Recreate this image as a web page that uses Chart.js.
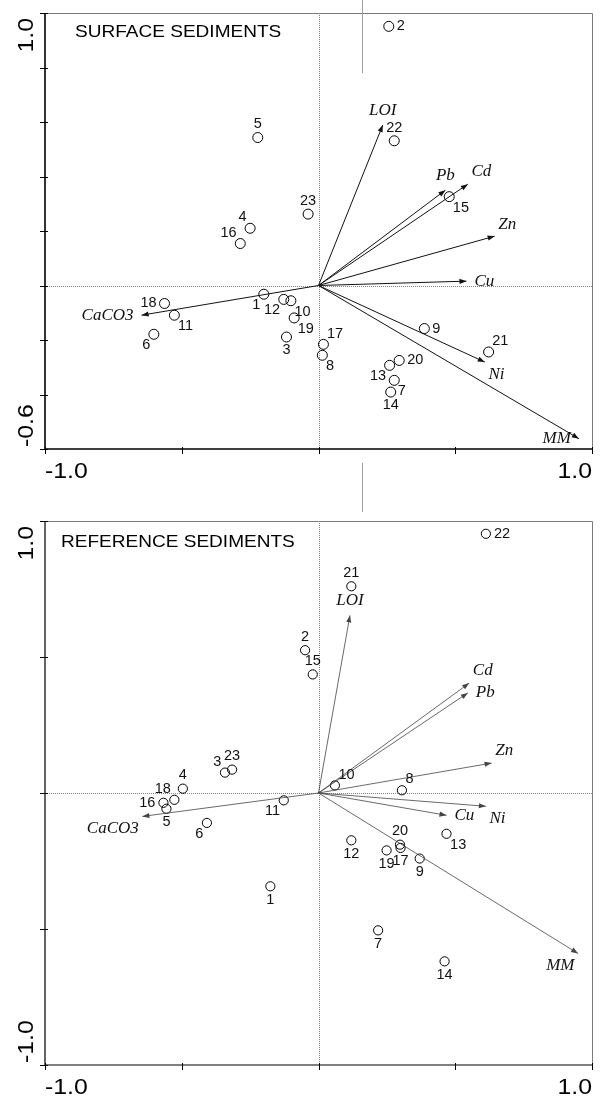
<!DOCTYPE html>
<html><head><meta charset="utf-8">
<script src="https://cdn.jsdelivr.net/npm/chart.js@4.4.0/dist/chart.umd.min.js"></script>
<style>
html,body{margin:0;padding:0;background:#fff;}
#wrap{position:relative;width:602px;height:1096px;overflow:hidden;background:#fff;}
.cv{position:absolute;left:0;width:602px;}
#c1wrap{top:0;height:490px;}
#c2wrap{top:490px;height:606px;}
.art{position:absolute;left:362px;width:1px;background:#a0a0a0;}
</style></head>
<body><div id="wrap">
<div class="cv" id="c1wrap"><canvas id="c1"></canvas></div>
<div class="cv" id="c2wrap"><canvas id="c2"></canvas></div>
<div class="art" style="top:0;height:73px"></div>
<div class="art" style="top:463px;height:49px"></div>
</div>
<script>
// ---------- DATA ----------
const sampleIds = ['1','2','3','4','5','6','7','8','9','10','11','12','13','14','15','16','17','18','19','20','21','22','23'];

const surfaceX = [-0.200, 0.257,-0.117,-0.250,-0.222,-0.602, 0.277, 0.014, 0.387,-0.101,-0.527,-0.127, 0.260, 0.264, 0.478,-0.286, 0.018,-0.563,-0.089, 0.295, 0.622, 0.277,-0.038];
const surfaceY = [-0.032, 0.951,-0.189, 0.210, 0.543,-0.179,-0.348,-0.256,-0.158,-0.056,-0.109,-0.051,-0.293,-0.391, 0.326, 0.154,-0.216,-0.066,-0.119,-0.275,-0.244, 0.531, 0.262];

const referenceX = [-0.176,-0.049,-0.342,-0.496,-0.556,-0.408, 0.218, 0.305, 0.370, 0.060,-0.127, 0.120, 0.468, 0.461,-0.021,-0.567, 0.300,-0.527, 0.249, 0.298, 0.120, 0.612,-0.316];
const referenceY = [-0.343, 0.525, 0.075, 0.016,-0.058,-0.110,-0.505, 0.010,-0.241, 0.028,-0.027,-0.174,-0.150,-0.619, 0.436,-0.036,-0.202,-0.025,-0.211,-0.190, 0.760, 0.953, 0.086];

const variableNames = ['LOI','Pb','Cd','Zn','Cu','Ni','MM','CaCO3'];
const surfaceVarX   = [0.235, 0.464, 0.546, 0.644, 0.541, 0.608, 0.952,-0.647];
const surfaceVarY   = [0.589, 0.350, 0.372, 0.181, 0.016,-0.281,-0.562,-0.109];
const referenceVarX = [0.115, 0.546, 0.551, 0.633, 0.468, 0.612, 0.949,-0.644];
const referenceVarY = [0.653, 0.368, 0.404, 0.110,-0.082,-0.049,-0.590,-0.086];

const xTickValues = [-1, -0.5, 0, 0.5, 1];
const xTickLabels = ['-1.0', '1.0'];
const surfaceYTickValues = [-0.6,-0.4,-0.2,0,0.2,0.4,0.6,0.8,1.0];
const surfaceYTickLabels = ['-0.6','1.0'];
const referenceYTickValues = [-1,-0.5,0,0.5,1];
const referenceYTickLabels = ['-1.0','1.0'];

// label placement (anchor codes), separate from data
const surfacePtPos   = ['bl','r','b','tl','t','bl','br','br','r','br','br','bl','bl','b','br','tl','tr','l','br','r','tr','t','t'];
const referencePtPos = ['b','t','tl','t','b','bl','b','tr','b','tr','bl','b','br','b','t','l','b','tl','b','t','t','r','t'];
const surfaceVarPos   = ['t','t','tr','tr','r','br','l','l'];
const referenceVarPos = ['t','r','tr','tr','r','br','bl','bl'];

// ---------- DRAWING ----------
function place(ctx, code, px, py, d) {
  let tx = px, ty = py;
  switch (code) {
    case 'r': ctx.textAlign='left'; ctx.textBaseline='middle'; tx=px+d+2; break;
    case 'l': ctx.textAlign='right'; ctx.textBaseline='middle'; tx=px-d-2; break;
    case 't': ctx.textAlign='center'; ctx.textBaseline='bottom'; ty=py-d; break;
    case 'b': ctx.textAlign='center'; ctx.textBaseline='top'; ty=py+d; break;
    case 'tr': ctx.textAlign='left'; ctx.textBaseline='bottom'; tx=px+d*0.6; ty=py-d*0.6; break;
    case 'tl': ctx.textAlign='right'; ctx.textBaseline='bottom'; tx=px-d*0.6; ty=py-d*0.6; break;
    case 'br': ctx.textAlign='left'; ctx.textBaseline='top'; tx=px+d*0.6; ty=py+d*0.6; break;
    case 'bl': ctx.textAlign='right'; ctx.textBaseline='top'; tx=px-d*0.6; ty=py+d*0.6; break;
  }
  return [tx, ty];
}

function wideText(ctx, txt, tx, ty, sx) {
  ctx.save();
  ctx.translate(tx, ty);
  ctx.scale(sx, 1);
  ctx.fillText(txt, 0, 0);
  ctx.restore();
}

const decor = {
  id: 'decor',
  beforeDatasetsDraw(chart, args, o) {
    const {ctx, chartArea:a, scales:{x, y}} = chart;
    ctx.save();
    ctx.strokeStyle = '#858585'; ctx.lineWidth = 1; ctx.setLineDash([1, 1]);
    const x0 = Math.round(x.getPixelForValue(0)) + 0.5;
    const y0 = Math.round(y.getPixelForValue(0)) + 0.5;
    ctx.beginPath();
    ctx.moveTo(x0, a.top); ctx.lineTo(x0, a.bottom);
    ctx.moveTo(a.left, y0); ctx.lineTo(a.right, y0);
    ctx.stroke();
    ctx.restore();
  },
  afterDatasetsDraw(chart, args, o) {
    const {ctx, chartArea:a, scales:{x, y}} = chart;
    ctx.save();
    // arrowheads + variable labels
    chart.data.datasets.forEach((ds) => {
      if (!ds.isVector) return;
      const p0 = ds.data[0], p1 = ds.data[1];
      const X0 = x.getPixelForValue(p0.x), Y0 = y.getPixelForValue(p0.y);
      const X1 = x.getPixelForValue(p1.x), Y1 = y.getPixelForValue(p1.y);
      const ang = Math.atan2(Y1 - Y0, X1 - X0);
      const L = 7, W = 2.6;
      ctx.fillStyle = ds.borderColor;
      ctx.beginPath();
      ctx.moveTo(X1, Y1);
      ctx.lineTo(X1 - L*Math.cos(ang) + W*Math.sin(ang), Y1 - L*Math.sin(ang) - W*Math.cos(ang));
      ctx.lineTo(X1 - L*Math.cos(ang) - W*Math.sin(ang), Y1 - L*Math.sin(ang) + W*Math.cos(ang));
      ctx.closePath(); ctx.fill();
      ctx.font = 'italic 17px "Liberation Serif", "Times New Roman", serif';
      ctx.fillStyle = '#111';
      const [tx, ty] = place(ctx, ds.labelPos, X1, Y1, 6);
      ctx.fillText(ds.label, tx, ty);
    });
    // point labels
    chart.data.datasets.forEach((ds) => {
      if (!ds.isSamples) return;
      ctx.font = '14.5px "Liberation Sans", Arial, sans-serif';
      ctx.fillStyle = '#111';
      ds.data.forEach((p, k) => {
        const px = x.getPixelForValue(p.x), py = y.getPixelForValue(p.y);
        const [tx, ty] = place(ctx, ds.labelPos[k], px, py, 6);
        ctx.fillText(ds.ids[k], tx, ty);
      });
    });
    // frame
    ctx.lineWidth = 1; ctx.strokeStyle = '#7a7a7a';
    ctx.beginPath();
    ctx.moveTo(a.left, a.top + 0.5); ctx.lineTo(a.right + 0.5, a.top + 0.5); ctx.lineTo(a.right + 0.5, a.bottom);
    ctx.stroke();
    ctx.lineWidth = o.axisWidth; ctx.strokeStyle = '#000';
    ctx.beginPath();
    ctx.moveTo(a.left, a.top); ctx.lineTo(a.left, a.bottom); ctx.lineTo(a.right + 1, a.bottom);
    ctx.stroke();
    // tick marks
    ctx.lineWidth = 1;
    ctx.beginPath();
    o.xTicks.forEach(v => { const px = Math.round(x.getPixelForValue(v)) + 0.5; ctx.moveTo(px, a.bottom - 2); ctx.lineTo(px, a.bottom + 5); });
    o.yTicks.forEach(v => { const py = Math.round(y.getPixelForValue(v)) + 0.5; ctx.moveTo(a.left - 5, py); ctx.lineTo(a.left + 3, py); });
    ctx.stroke();
    // tick labels
    ctx.fillStyle = '#000';
    ctx.font = '22px "Liberation Sans", Arial, sans-serif';
    ctx.textBaseline = 'alphabetic';
    const sx = 1.13;
    ctx.textAlign = 'left';
    wideText(ctx, o.xLabels[0], x.getPixelForValue(xTickValues[0]), a.bottom + 29, sx);
    ctx.textAlign = 'right';
    wideText(ctx, o.xLabels[1], x.getPixelForValue(xTickValues[xTickValues.length - 1]), a.bottom + 29, sx);
    const yv = o.yTicks;
    ctx.save();
    ctx.translate(a.left - 12, y.getPixelForValue(yv[0]) - 2);
    ctx.rotate(-Math.PI/2); ctx.scale(sx, 1); ctx.textAlign = 'left';
    ctx.fillText(o.yLabels[0], 0, 0);
    ctx.restore();
    ctx.save();
    ctx.translate(a.left - 12, y.getPixelForValue(yv[yv.length - 1]) + 5);
    ctx.rotate(-Math.PI/2); ctx.scale(sx, 1); ctx.textAlign = 'right';
    ctx.fillText(o.yLabels[1], 0, 0);
    ctx.restore();
    // title
    ctx.font = '17px "Liberation Sans", Arial, sans-serif';
    ctx.textAlign = 'left'; ctx.textBaseline = 'alphabetic';
    wideText(ctx, o.title, o.titleX, o.titleY, 1.12);
    ctx.restore();
  }
};

function makeChart(id, xs, ys, ptPos, vx, vy, vPos, yMin, yMax, opt) {
  const datasets = [];
  variableNames.forEach((n, i) => {
    datasets.push({
      type: 'line', label: n, isVector: true, labelPos: vPos[i],
      data: [{x: 0, y: 0}, {x: vx[i], y: vy[i]}],
      borderColor: opt.lineColor, borderWidth: opt.lineWidth, pointRadius: 0, fill: false, tension: 0
    });
  });
  datasets.push({
    type: 'scatter', label: 'samples', isSamples: true, ids: sampleIds, labelPos: ptPos,
    data: xs.map((v, i) => ({x: v, y: ys[i]})),
    pointStyle: 'circle', pointRadius: opt.radius, pointBorderWidth: 1,
    pointBorderColor: '#000', pointBackgroundColor: 'rgba(0,0,0,0)', borderColor: '#000', backgroundColor: 'rgba(0,0,0,0)'
  });
  return new Chart(document.getElementById(id), {
    type: 'scatter',
    data: { datasets },
    options: {
      responsive: true, maintainAspectRatio: false, animation: false,
      layout: { padding: opt.padding },
      scales: {
        x: { type: 'linear', min: -1, max: 1, display: false },
        y: { type: 'linear', min: yMin, max: yMax, display: false }
      },
      plugins: {
        legend: { display: false }, tooltip: { enabled: false },
        decor: { title: opt.title, titleX: opt.titleX, titleY: opt.titleY, xTicks: xTickValues, xLabels: xTickLabels,
                 yTicks: opt.yTicks, yLabels: opt.yLabels, axisWidth: opt.axisWidth }
      }
    },
    plugins: [decor]
  });
}

makeChart('c1', surfaceX, surfaceY, surfacePtPos, surfaceVarX, surfaceVarY, surfaceVarPos, -0.6, 1.0, {
  padding: {left: 45, right: 10, top: 13, bottom: 41},
  title: 'SURFACE SEDIMENTS', titleX: 75, titleY: 37,
  yTicks: surfaceYTickValues, yLabels: surfaceYTickLabels,
  lineColor: '#111', lineWidth: 1, radius: 5, axisWidth: 1.6
});
makeChart('c2', referenceX, referenceY, referencePtPos, referenceVarX, referenceVarY, referenceVarPos, -1.0, 1.0, {
  padding: {left: 45, right: 10, top: 31, bottom: 31},
  title: 'REFERENCE SEDIMENTS', titleX: 61, titleY: 57,
  yTicks: referenceYTickValues, yLabels: referenceYTickLabels,
  lineColor: '#444', lineWidth: 0.8, radius: 4.6, axisWidth: 1.2
});
</script>
</body></html>
